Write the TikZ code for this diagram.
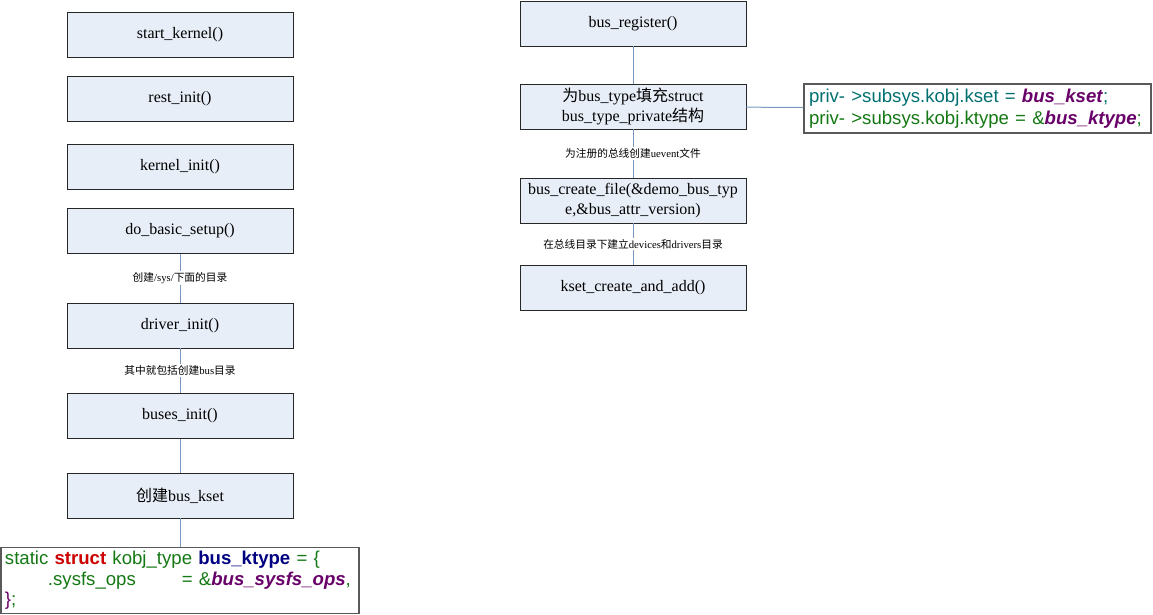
\documentclass[tikz,border=0pt]{standalone}
\usepackage{fontspec}
\setmainfont{Liberation Serif}
\newfontfamily\cjk{Noto Sans CJK SC}
\newfontfamily\codefont{Liberation Sans}
\newcommand{\zh}[1]{{\cjk #1}}
\definecolor{boxfill}{RGB}{232,238,248}
\definecolor{linkcol}{RGB}{120,152,192}
\definecolor{cgreen}{RGB}{20,120,20}
\definecolor{cred}{RGB}{205,0,0}
\definecolor{cnavy}{RGB}{0,0,130}
\definecolor{cpurple}{RGB}{105,0,105}
\definecolor{cteal}{RGB}{0,112,112}
\begin{document}
\begin{tikzpicture}[x=1pt,y=-1pt,
  fbox/.style={draw=black!85,line width=0.9pt,fill=boxfill,minimum width=226pt,minimum height=45pt,inner sep=2pt,font=\fontsize{16}{20}\selectfont,align=center},
  link/.style={draw=linkcol,line width=1pt},
  lbl/.style={fill=white,inner sep=1.5pt,font=\fontsize{10.7}{12}\selectfont},
  codebox/.style={draw=black!65,line width=1.3pt,fill=white,inner sep=4pt,align=left,font=\codefont\fontsize{18.6}{20.5}\selectfont}]
\useasboundingbox (0,0) rectangle (1153,614);
% left column
\node[fbox] (sk) at (180,34.5) {start\_kernel()};
\node[fbox] (ri) at (180,98.5) {rest\_init()};
\node[fbox] (ki) at (180,166.5) {kernel\_init()};
\node[fbox] (dbs) at (180,231) {do\_basic\_setup()};
\node[fbox] (di) at (180,325.5) {driver\_init()};
\node[fbox] (bi) at (180,416) {buses\_init()};
\node[fbox] (bk) at (180,495.5) {\zh{创建}bus\_kset};
\node[codebox,minimum width=358pt,minimum height=65pt,text width=350pt] (code) at (180,580.5) {%
\textcolor{cgreen}{static} \textcolor{cred}{\textbf{struct}} \textcolor{cgreen}{kobj\_type} \textcolor{cnavy}{\textbf{bus\_ktype}} \textcolor{cgreen}{= \{}\\
\hspace*{43pt}\textcolor{cgreen}{.sysfs\_ops\hspace*{46pt}= \&}\textcolor{cpurple}{\textbf{\textit{bus\_sysfs\_ops}}}\textcolor{cgreen}{,}\\
\textcolor{cpurple}{\}}\textcolor{cgreen}{;}};
% right column
\node[fbox] (br) at (633,23.5) {bus\_register()};
\node[fbox] (fill) at (633,106.5) {\zh{为}bus\_type\zh{填充}struct\\bus\_type\_private\zh{结构}};
\node[fbox] (bcf) at (633,200.5) {bus\_create\_file(\&demo\_bus\_typ\\e,\&bus\_attr\_version)};
\node[fbox] (kca) at (633,287.5) {kset\_create\_and\_add()};
\node[codebox,line width=1.1pt,minimum width=347pt,minimum height=49pt,text width=337pt,font=\codefont\fontsize{18.6}{22}\selectfont] (priv) at (977.5,108.5) {%
\textcolor{cteal}{priv- >subsys.kobj.kset = }\textcolor{cpurple}{\textbf{\textit{bus\_kset}}}\textcolor{cteal}{;}\\
\textcolor{cgreen}{priv- >subsys.kobj.ktype = \&}\textcolor{cpurple}{\textbf{\textit{bus\_ktype}}}\textcolor{cgreen}{;}};
% connectors
\draw[link] (dbs) -- node[lbl] {\zh{创建}/sys/\zh{下面的目录}} (di);
\draw[link] (di) -- node[lbl] {\zh{其中就包括创建}bus\zh{目录}} (bi);
\draw[link] (bi) -- (bk);
\draw[link] (bk) -- (code);
\draw[link] (br) -- (fill);
\draw[link] (fill) -- node[lbl] {\zh{为注册的总线创建}uevent\zh{文件}} (bcf);
\draw[link] (bcf) -- node[lbl] {\zh{在总线目录下建立}devices\zh{和}drivers\zh{目录}} (kca);
\draw[link] (fill) -- (priv);
\end{tikzpicture}
\end{document}
